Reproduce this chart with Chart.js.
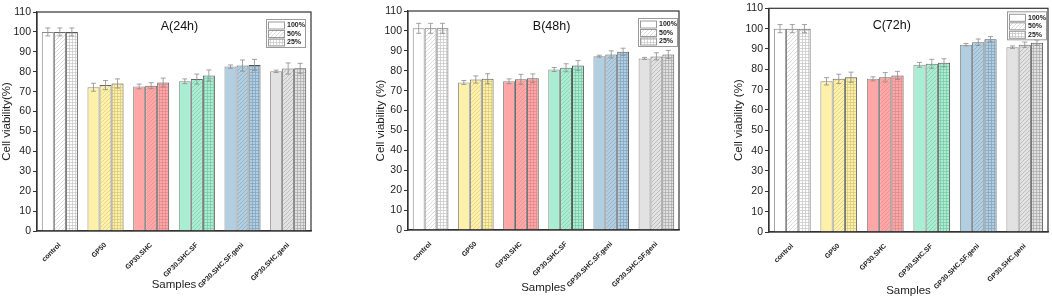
<!DOCTYPE html>
<html>
<head>
<meta charset="utf-8">
<script src="https://cdn.jsdelivr.net/npm/chart.js@4.4.0/dist/chart.umd.min.js"></script>
<style>
  body { margin: 0; background: #fff; width: 1052px; height: 299px; overflow: hidden; position: relative; }
  canvas { position: absolute; top: 0; }
</style>
</head>
<body>
<canvas id="chartA" width="350" height="299" style="left:0"></canvas>
<canvas id="chartB" width="350" height="299" style="left:350px"></canvas>
<canvas id="chartC" width="352" height="299" style="left:700px"></canvas>
<script>
// categories (panel B repeats the .SF.geni label on the last group, as in the figure)
const samples = ['control', 'GP50', 'GP30.SHC', 'GP30.SHC.SF', 'GP30.SHC.SF.geni', 'GP30.SHC.geni'];
const samplesB = ['control', 'GP50', 'GP30.SHC', 'GP30.SHC.SF', 'GP30.SHC.SF.geni', 'GP30.SHC.SF.geni'];
const doses = ['100%', '50%', '25%'];

// A (24h)
const a100 = [100, 72.2, 72.6, 75.2, 82.6, 80.2];
const a50  = [100, 73.3, 73.0, 76.3, 83.1, 81.6];
const a25  = [100, 74.1, 74.6, 78.1, 83.4, 81.7];
const aErr100 = [2.0, 2.0, 1.2, 1.2, 0.8, 0.6];
const aErr50  = [2.0, 2.3, 1.5, 2.5, 2.8, 2.8];
const aErr25  = [2.0, 2.3, 2.2, 2.8, 2.8, 2.5];

// B (48h)
const b100 = [101.3, 74.1, 74.7, 80.6, 87.3, 86.2];
const b50  = [101.3, 75.6, 75.7, 81.5, 88.2, 87.2];
const b25  = [101.3, 76.0, 76.2, 82.6, 89.5, 88.2];
const bErr100 = [2.5, 1.0, 1.2, 1.0, 0.5, 0.5];
const bErr50  = [2.5, 1.8, 2.5, 2.0, 1.8, 1.8];
const bErr25  = [2.5, 2.5, 2.2, 2.5, 1.8, 2.0];

// C (72h)
const c100 = [100, 74.1, 75.3, 82.2, 92.1, 90.9];
const c50  = [100, 75.3, 76.1, 82.7, 93.3, 92.1];
const c25  = [100, 76.1, 77.0, 83.2, 94.8, 93.1];
const cErr100 = [2.0, 1.8, 1.0, 1.2, 0.6, 0.6];
const cErr50  = [2.0, 2.3, 2.3, 2.2, 1.6, 1.3];
const cErr25  = [2.0, 2.5, 2.0, 2.0, 1.3, 1.3];

// colours per sample group, and the darker hatch line for each
const fills = ['#ffffff', '#fdf0a8', '#ffa6a6', '#a9eed2', '#b2cee1', '#e2e2e2'];
const hatchLines = ['#c4c4c4', '#d6c67a', '#dc8a8a', '#78c6a2', '#80a2bd', '#a8a8a8'];
const kinds = ['solid', 'diag', 'grid'];
const borderCols = ['#8a8a8a', '#666', '#555'];

function makePattern(fill, line, kind) {
  if (kind === 'solid') return fill;
  const s = kind === 'grid' ? 3 : 4;
  const c = document.createElement('canvas');
  c.width = s; c.height = s;
  const g = c.getContext('2d');
  g.fillStyle = fill;
  g.fillRect(0, 0, s, s);
  g.strokeStyle = line;
  g.beginPath();
  if (kind === 'diag') {
    g.lineWidth = 0.6;
    g.moveTo(0, s); g.lineTo(s, 0);
    g.moveTo(-1, 1); g.lineTo(1, -1);
    g.moveTo(s - 1, s + 1); g.lineTo(s + 1, s - 1);
  } else {
    g.lineWidth = 0.7;
    g.moveTo(0.5, 0); g.lineTo(0.5, s);
    g.moveTo(0, 0.5); g.lineTo(s, 0.5);
  }
  g.stroke();
  return g.createPattern(c, 'repeat');
}

// error bars, plot frame, panel title and the little legend box
const panelPlugin = {
  id: 'panel',
  afterDatasetsDraw(chart, args, opts) {
    const { ctx, chartArea: a, scales: { y } } = chart;
    ctx.save();
    ctx.strokeStyle = '#8c8c8c';
    ctx.lineWidth = 0.8;
    chart.data.datasets.forEach((ds, i) => {
      chart.getDatasetMeta(i).data.forEach((bar, j) => {
        const v = ds.data[j], e = opts.errors[i][j];
        const y1 = y.getPixelForValue(v + e), y2 = y.getPixelForValue(v - e);
        ctx.beginPath();
        ctx.moveTo(bar.x, y1); ctx.lineTo(bar.x, y2);
        ctx.moveTo(bar.x - 2.5, y1); ctx.lineTo(bar.x + 2.5, y1);
        ctx.moveTo(bar.x - 2.5, y2); ctx.lineTo(bar.x + 2.5, y2);
        ctx.stroke();
      });
    });

    ctx.strokeStyle = '#333';
    ctx.lineWidth = 1.2;
    ctx.strokeRect(a.left, a.top, a.right - a.left, a.bottom - a.top);

    ctx.fillStyle = '#111';
    ctx.font = '12.5px Arial';
    ctx.textAlign = 'center';
    ctx.textBaseline = 'middle';
    ctx.fillText(opts.title, a.left + opts.titleX * (a.right - a.left), a.top + opts.titleY);

    // legend
    const lw = 39, lh = 28;
    const lx = a.right - opts.legendRight - lw, ly = a.top + opts.legendTop;
    ctx.fillStyle = '#fff';
    ctx.fillRect(lx, ly, lw, lh);
    ctx.strokeStyle = '#9a9a9a';
    ctx.lineWidth = 1;
    ctx.strokeRect(lx + 0.5, ly + 0.5, lw, lh);
    ctx.font = 'bold 7px Arial';
    ctx.textAlign = 'left';
    chart.data.datasets.forEach((ds, i) => {
      const ry = ly + 2.5 + i * 8.5;
      ctx.fillStyle = ds.backgroundColor[0];
      ctx.fillRect(lx + 2, ry, 16, 7);
      ctx.strokeStyle = '#999';
      ctx.strokeRect(lx + 2.5, ry + 0.5, 16, 7);
      ctx.fillStyle = '#222';
      ctx.fillText(ds.label, lx + 21, ry + 4);
    });
    ctx.restore();
  }
};

function makeChart(id, labels, series, errors, p) {
  const datasets = doses.map((d, i) => ({
    label: d,
    data: series[i],
    backgroundColor: fills.map((f, j) => makePattern(f, hatchLines[j], kinds[i])),
    borderColor: borderCols[i],
    borderWidth: 1,
    categoryPercentage: 0.79,
    barPercentage: 1
  }));

  return new Chart(document.getElementById(id), {
    type: 'bar',
    data: { labels: labels, datasets: datasets },
    plugins: [panelPlugin],
    options: {
      responsive: false,
      animation: false,
      devicePixelRatio: 1,
      layout: { padding: { top: p.top, right: p.right, bottom: 0, left: 0 } },
      plugins: {
        legend: { display: false },
        tooltip: { enabled: false },
        panel: {
          errors: errors,
          title: p.title,
          titleX: p.titleX,
          titleY: p.titleY,
          legendRight: p.legendRight,
          legendTop: p.legendTop
        }
      },
      scales: {
        x: {
          grid: { display: false },
          border: { color: '#333', width: 1.2 },
          ticks: {
            autoSkip: false,
            minRotation: 45,
            maxRotation: 45,
            padding: 2,
            color: '#222',
            font: { family: 'Arial', size: 7, weight: 'bold' }
          },
          title: {
            display: true,
            text: 'Samples',
            color: '#222',
            font: { family: 'Arial', size: 11.5 },
            padding: { top: 0, bottom: p.xTitlePad }
          },
          afterFit: (s) => { s.height = p.xHeight; }
        },
        y: {
          min: 0,
          max: 110,
          ticks: {
            stepSize: 10,
            padding: 2,
            color: '#222',
            font: { family: 'Arial', size: 10.5 }
          },
          grid: { drawOnChartArea: false, drawTicks: true, tickLength: 4, color: '#333' },
          border: { color: '#333', width: 1.2 },
          title: {
            display: true,
            text: p.yTitle,
            color: '#222',
            font: { family: 'Arial', size: 11.5 },
            padding: { top: p.yTitlePad, bottom: 0 }
          },
          afterFit: (s) => { s.width = p.yWidth; }
        }
      }
    }
  });
}

makeChart('chartA', samples, [a100, a50, a25], [aErr100, aErr50, aErr25], {
  title: 'A(24h)', yTitle: 'Cell viability(%)',
  top: 12, right: 39, yWidth: 37, xHeight: 68, xTitlePad: 7, yTitlePad: 0,
  titleX: 0.52, titleY: 15, legendRight: 6, legendTop: 7
});
makeChart('chartB', samplesB, [b100, b50, b25], [bErr100, bErr50, bErr25], {
  title: 'B(48h)', yTitle: 'Cell viability (%)',
  top: 11, right: 21, yWidth: 58, xHeight: 69, xTitlePad: 4, yTitlePad: 24,
  titleX: 0.53, titleY: 16, legendRight: 2, legendTop: 7
});
makeChart('chartC', samples, [c100, c50, c25], [cErr100, cErr50, cErr25], {
  title: 'C(72h)', yTitle: 'Cell viability (%)',
  top: 6, right: 4, yWidth: 69, xHeight: 67, xTitlePad: 1, yTitlePad: 32,
  titleX: 0.44, titleY: 17, legendRight: 2, legendTop: 3
});
</script>
</body>
</html>
